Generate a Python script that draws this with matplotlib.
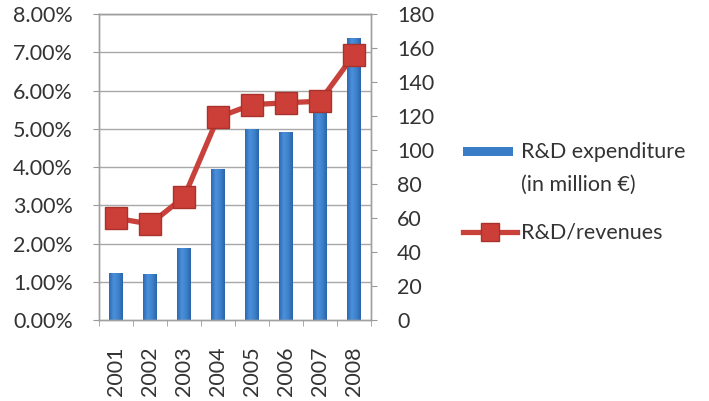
import matplotlib
matplotlib.use("Agg")
import matplotlib.pyplot as plt
from matplotlib.lines import Line2D
from matplotlib.patches import Rectangle
from matplotlib.colors import LinearSegmentedColormap
import numpy as np

years = ["2001", "2002", "2003", "2004", "2005", "2006", "2007", "2008"]
expenditure = [27.8, 27.1, 42.2, 88.6, 112.4, 110.4, 126.5, 165.7]
ratio = [2.66, 2.51, 3.22, 5.30, 5.63, 5.68, 5.72, 6.93]

plt.rcParams['font.family'] = ['Lato', 'DejaVu Sans']
TXT = "#333333"
FS = 15.5

fig = plt.figure(figsize=(7.09, 4.01), dpi=100)
ax = fig.add_axes([0.140, 0.202, 0.383, 0.763])
ax2 = ax.twinx()

x = np.arange(len(years))
bars = ax2.bar(x, expenditure, width=0.4, color="#3a7cc6", zorder=2)
cmap = LinearSegmentedColormap.from_list("b", ["#2c69b0", "#4b90da", "#3f82cc", "#2a65aa"])
grad = np.linspace(0, 1, 64).reshape(1, -1)
for b in bars:
    im = ax2.imshow(grad, cmap=cmap, aspect="auto", zorder=2.1,
                    extent=[b.get_x(), b.get_x() + b.get_width(), 0, b.get_height()])
    im.set_clip_path(b)
ax2.set_ylim(0, 180)
ax2.set_yticks(range(0, 181, 20))
for v in range(1, 9):
    ax2.axhline(v * 22.5, color="#a8a8a8", lw=1, zorder=0)

ax.plot(x, ratio, color="#c8413b", lw=3.8, marker="s", markersize=16,
        markerfacecolor="#cc3f38", markeredgecolor="#a9322d", markeredgewidth=1, zorder=5)
ax.set_ylim(0, 8)
ax.set_yticks(range(0, 9))
ax.set_yticklabels([f"{v:.2f}%" for v in range(0, 9)])
ax.set_xlim(-0.5, len(years) - 0.5)
ax2.set_xlim(-0.5, len(years) - 0.5)
ax.set_xticks(x)
ax.set_xticklabels(years, rotation=90)
ax.set_xticks(np.arange(-0.5, len(years), 1), minor=True)
ax.tick_params(axis='x', which='major', length=0, pad=19)
ax.tick_params(axis='x', which='minor', length=4, color="#999999", direction='out')
ax.tick_params(axis='y', length=4, color="#999999", direction='out', pad=15)
ax2.tick_params(axis='y', length=4, color="#999999", direction='out', pad=15)
for a in (ax, ax2):
    a.tick_params(labelsize=FS, labelcolor=TXT)
    for s in a.spines.values():
        s.set_color("#a0a0a0")
        s.set_linewidth(1)

ax.patch.set_visible(False)
ax2.set_zorder(0)
ax.set_zorder(1)

# legend
fig.patches.append(Rectangle((463 / 709, 1 - 156 / 401), 50 / 709, 9 / 401,
                             transform=fig.transFigure, facecolor="#3a7cc6",
                             edgecolor="none"))
fig.text(521 / 709, 1 - 152 / 401, "R&D expenditure", fontsize=FS, color=TXT, va="center")
fig.text(521 / 709, 1 - 185 / 401, "(in million €)", fontsize=FS, color=TXT, va="center")
fig.lines.append(Line2D([463 / 709, 517 / 709], [1 - 232 / 401] * 2, transform=fig.transFigure,
                        color="#c8413b", lw=3.8))
fig.lines.append(Line2D([490 / 709], [1 - 232 / 401], transform=fig.transFigure,
                        marker="s", markersize=13, markerfacecolor="#cc3f38",
                        markeredgecolor="#a9322d", markeredgewidth=1))
fig.text(521 / 709, 1 - 232 / 401, "R&D/revenues", fontsize=FS, color=TXT, va="center")

fig.savefig("out.png", dpi=100)
